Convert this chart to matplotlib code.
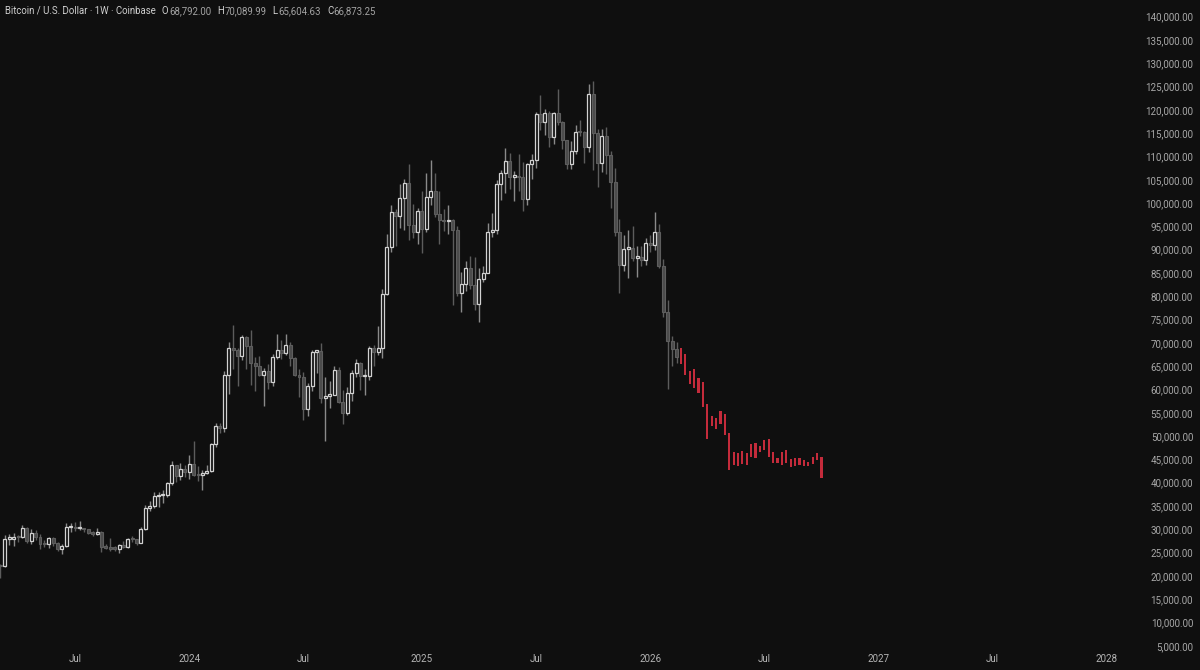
import matplotlib
matplotlib.use("Agg")
import matplotlib.pyplot as plt
import numpy as np
import pandas as pd

plt.rcParams["font.family"] = ["Roboto", "DejaVu Sans"]

# weekly candles, values in thousands of USD, first week = 2023-03-06
first_open = 22.43
close_2023 = [22.13, 27.98, 27.99, 28.45, 28.33, 30.30, 27.59, 29.23, 28.43, 26.92,
              26.75, 28.07, 27.12, 25.85, 26.34, 30.47, 30.59, 30.17, 30.25, 30.08,
              29.27, 29.05, 29.41, 26.10, 26.01, 25.84, 25.83, 26.53, 26.25, 27.97,
              27.93, 27.15, 29.99, 34.52, 35.04, 37.06, 37.36, 37.45, 39.97, 43.78,
              41.36, 43.00, 42.28]
high_2023 = [22.60, 28.70, 28.90, 29.20, 28.80, 30.97, 30.50, 30.00, 29.80, 29.00,
             27.60, 28.40, 28.45, 27.30, 26.80, 31.40, 31.25, 31.50, 31.80, 30.35,
             30.00, 29.70, 30.20, 29.70, 26.80, 28.14, 26.40, 26.85, 27.50, 28.05,
             28.60, 28.00, 30.40, 35.20, 35.98, 38.00, 37.98, 38.40, 40.20, 44.70,
             43.40, 44.30, 43.80]
low_2023 = [19.55, 21.90, 26.60, 26.50, 27.20, 28.20, 27.10, 26.94, 27.70, 25.80,
            26.10, 25.90, 26.50, 25.35, 24.80, 26.20, 29.50, 29.70, 29.95, 29.50,
            28.90, 28.60, 28.70, 25.20, 25.80, 25.35, 25.40, 24.90, 26.00, 26.00,
            27.20, 26.55, 26.95, 29.90, 33.90, 34.50, 34.80, 35.60, 36.90, 39.60,
            40.20, 40.55, 41.30]

close_2024 = [43.93, 41.73, 41.58, 42.03, 42.58, 48.30, 52.12, 51.73, 63.10, 68.95,
              68.39, 67.20, 71.30, 69.35, 65.66, 64.94, 63.10, 63.89, 61.50, 66.95,
              68.50, 67.75, 69.65, 66.65, 63.20, 62.70, 55.86, 60.80, 68.15, 68.25,
              58.10, 58.70, 58.90, 64.20, 57.30, 54.85, 59.20, 63.60, 65.60, 62.80,
              62.85, 69.00, 68.00, 68.80, 80.40, 90.50, 98.00, 97.30, 101.20, 104.40,
              95.20, 93.70, 98.30]
high_2024 = [45.90, 49.00, 43.60, 42.80, 43.80, 48.60, 52.80, 52.90, 64.00, 70.17,
             73.80, 68.90, 71.70, 71.50, 72.80, 66.90, 67.20, 64.70, 65.50, 67.70,
             71.95, 70.60, 72.00, 70.20, 66.90, 64.50, 63.80, 61.40, 68.40, 68.50,
             70.00, 62.70, 61.80, 65.00, 64.90, 59.80, 60.60, 64.10, 66.50, 66.00,
             64.50, 69.40, 69.50, 73.60, 81.50, 93.40, 99.60, 98.70, 104.00, 105.20,
             108.30, 99.90, 99.00]
low_2024 = [40.75, 41.50, 40.30, 38.50, 41.80, 42.25, 47.70, 50.60, 50.90, 59.00,
            64.50, 60.80, 66.40, 64.50, 60.90, 59.60, 62.80, 56.50, 60.20, 60.80,
            66.60, 66.60, 67.50, 65.10, 62.90, 58.40, 53.50, 54.30, 59.70, 63.50,
            57.20, 49.00, 56.10, 58.80, 57.20, 52.55, 54.60, 57.50, 62.70, 59.80,
            58.90, 62.00, 65.10, 67.50, 66.80, 80.20, 89.40, 90.80, 94.60, 94.20,
            92.10, 92.50, 91.30]

close_2025 = [94.50, 101.30, 102.60, 97.70, 96.40, 96.10, 96.30, 94.30, 80.70, 82.60,
              86.10, 82.40, 78.40, 83.70, 85.10, 93.70, 94.30, 104.10, 106.40, 109.00,
              105.70, 105.70, 105.50, 100.90, 108.40, 109.20, 119.10, 117.30, 119.40, 114.20,
              119.30, 117.40, 113.50, 108.30, 111.10, 115.30, 115.20, 112.10, 123.50, 115.10,
              108.60, 114.50, 110.40, 104.60, 93.90, 86.80, 90.20, 90.40, 88.30, 88.50,
              87.70, 91.50]
high_2025 = [102.70, 106.40, 109.30, 106.40, 102.50, 98.80, 99.50, 96.50, 95.00, 85.30,
             87.50, 88.70, 88.50, 86.10, 86.40, 95.70, 97.90, 104.90, 107.10, 111.90,
             110.70, 106.80, 110.50, 108.90, 108.50, 110.50, 119.50, 123.20, 120.20, 119.80,
             119.60, 124.50, 117.60, 113.60, 113.40, 116.80, 117.90, 115.40, 125.50, 126.20,
             115.90, 116.00, 116.40, 111.10, 107.50, 96.60, 93.20, 94.30, 95.00, 90.70,
             90.70, 92.50]
low_2025 = [89.30, 93.70, 99.50, 97.00, 91.20, 94.10, 93.40, 78.20, 80.00, 76.60,
            81.20, 81.60, 77.10, 74.40, 83.00, 85.00, 92.80, 93.40, 100.70, 102.10,
            103.00, 100.40, 102.70, 98.20, 99.60, 105.10, 107.50, 115.70, 114.70, 112.00,
            112.70, 116.80, 111.70, 107.30, 107.30, 110.60, 114.40, 108.60, 111.00, 107.20,
            103.50, 106.70, 106.30, 98.90, 93.00, 80.80, 85.50, 84.00, 87.60, 84.20,
            86.40, 86.80]

close_2026 = [90.90, 93.70, 86.40, 76.70, 70.30, 68.792, 66.87325]
high_2026 = [93.20, 98.00, 95.50, 88.00, 79.30, 71.40, 70.08999]
low_2026 = [89.40, 90.00, 86.00, 75.60, 60.00, 65.00, 65.60463]

# projected bars (red), high / low in thousands
proj_high = [68.8, 67.7, 63.9, 64.5, 62.4, 61.7, 56.8, 54.4, 53.8, 55.3, 54.8,
             50.6, 46.5, 46.3, 46.9, 46.3, 48.4, 48.6, 47.8, 49.1, 49.3, 46.5,
             45.4, 46.5, 47.1, 45.0, 45.2, 45.2, 44.8, 44.5, 45.6, 46.3, 45.6]
proj_low = [65.4, 63.2, 61.1, 60.4, 59.3, 56.3, 49.3, 52.1, 51.6, 52.5, 50.3,
            42.8, 43.9, 43.5, 44.1, 43.9, 45.6, 45.4, 46.5, 47.1, 45.6, 44.3,
            44.3, 43.7, 44.3, 43.3, 43.5, 43.9, 43.5, 43.5, 44.1, 44.8, 41.1]

time_labels = ["Jul", "2024", "Jul", "2025", "Jul", "2026", "Jul", "2027", "Jul", "2028"]
time_dates = ["2023-07-01", "2024-01-01", "2024-07-01", "2025-01-01", "2025-07-01",
              "2026-01-01", "2026-07-01", "2027-01-01", "2027-07-01", "2028-01-01"]
price_ticks = np.arange(5000, 140001, 5000)

closes = np.array(close_2023 + close_2024 + close_2025 + close_2026) * 1000
highs = np.array(high_2023 + high_2024 + high_2025 + high_2026) * 1000
lows = np.array(low_2023 + low_2024 + low_2025 + low_2026) * 1000
opens = np.concatenate([[first_open * 1000], closes[:-1]])
ph = np.array(proj_high) * 1000
pl = np.array(proj_low) * 1000

n = len(closes)
x = np.arange(n)
xp = np.arange(n, n + len(ph))
weeks = pd.date_range("2023-03-06", periods=300, freq="7D")

bg = "#0f0f0f"
fig = plt.figure(figsize=(12, 6.7), dpi=100, facecolor=bg)
ax = fig.add_axes([0, 20 / 670, 1132 / 1200, 650 / 670], facecolor=bg)

up = closes >= opens
body_lo = np.minimum(opens, closes)
body_h = np.maximum(np.abs(closes - opens), 300)

ax.vlines(x[up], lows[up], highs[up], color="#8a8a8a", lw=1, zorder=2)
ax.vlines(x[~up], lows[~up], highs[~up], color="#5c5c5c", lw=1, zorder=2)
ax.bar(x[up], body_h[up], 0.68, bottom=body_lo[up], facecolor=bg,
       edgecolor="#d2d2d2", linewidth=0.9, zorder=3)
ax.bar(x[~up], body_h[~up], 0.68, bottom=body_lo[~up], facecolor="#4c4c4c",
       edgecolor="#5e5e5e", linewidth=0.8, zorder=3)

ax.bar(xp, ph - pl, 0.5, bottom=pl, color="#c42b3b", linewidth=0, zorder=3)

ax.set_xlim(-0.11, 257.75)
ax.set_ylim(4094, 143584)

tick_pos = [int(np.argmax(weeks >= pd.Timestamp(d))) for d in time_dates]
ax.set_xticks(tick_pos)
ax.set_xticklabels(time_labels)
ax.tick_params(axis="x", length=0, pad=3, labelsize=7, labelcolor="#b4b4b4")

ax.yaxis.tick_right()
ax.set_yticks(price_ticks)
ax.set_yticklabels([f"{v:,.2f}" for v in price_ticks])
ax.tick_params(axis="y", length=0, pad=44, labelsize=7, labelcolor="#a8a8a8")
for lbl in ax.get_yticklabels():
    lbl.set_horizontalalignment("right")

for s in ax.spines.values():
    s.set_visible(False)

# header line
t = fig.text(5 / 1200, 1 - 11 / 670, "Bitcoin / U.S. Dollar · 1W · Coinbase",
             color="#cfcfcf", fontsize=6.9, va="center")
pieces = [("O", "68,792.00"), ("H", "70,089.99"), ("L", "65,604.63"), ("C", "66,873.25")]
prev = t
for letter, val in pieces:
    a = ax.annotate(letter, xy=(1, 0.5), xycoords=prev, xytext=(4.5, 0),
                    textcoords="offset points", va="center", color="#cfcfcf", fontsize=6.9)
    prev = ax.annotate(val, xy=(1, 0.5), xycoords=a, xytext=(0.3, 0),
                       textcoords="offset points", va="center", color="#a3a3a3", fontsize=6.9)

fig.savefig("out.png", dpi=100, facecolor=bg)
